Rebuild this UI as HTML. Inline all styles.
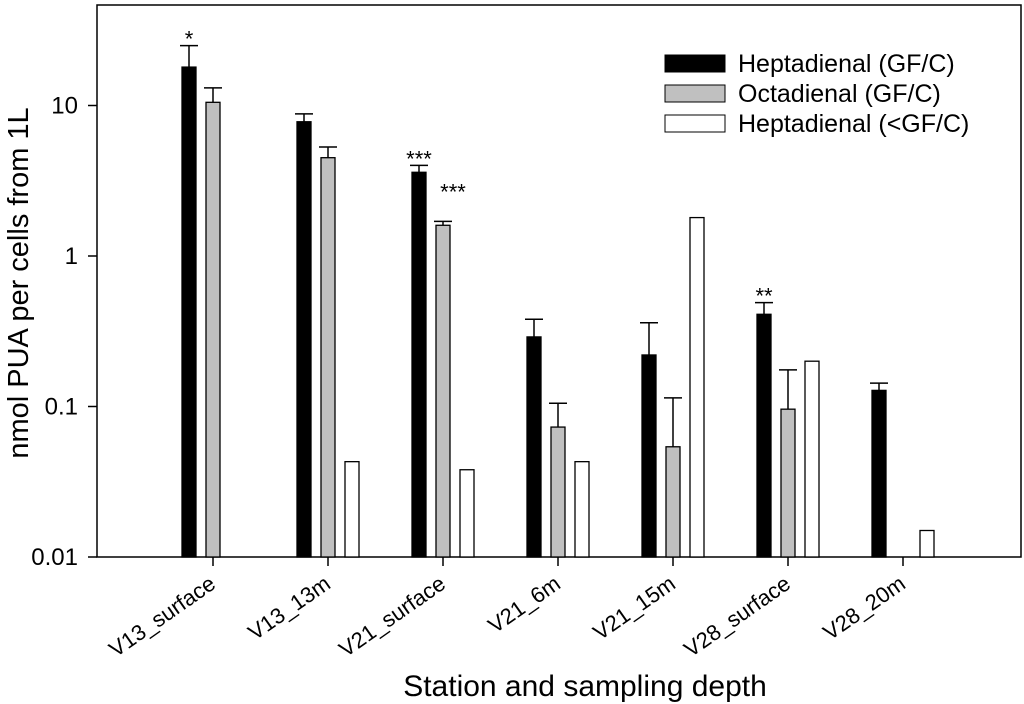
<!DOCTYPE html>
<html><head><meta charset="utf-8"><style>
html,body{margin:0;padding:0;background:#fff}
svg{display:block;font-family:"Liberation Sans",Arial,sans-serif}
</style></head><body>
<svg id="chart" width="1024" height="704">
<rect x="97" y="5" width="924" height="552" fill="none" stroke="#000" stroke-width="1.5"/>
<g id="bars"></g>
<g id="axes"></g>
<g>
<rect x="665" y="55" width="60" height="17" fill="#000" stroke="#000"/>
<text x="738" y="72" font-size="25">Heptadienal (GF/C)</text>
<rect x="665" y="85" width="60" height="17" fill="#c0c0c0" stroke="#000"/>
<text x="738" y="102" font-size="25">Octadienal (GF/C)</text>
<rect x="665" y="115" width="60" height="17" fill="#fff" stroke="#000"/>
<text x="738" y="132" font-size="25">Heptadienal (&lt;GF/C)</text>
</g>
<text x="28" y="283" font-size="29" text-anchor="middle" transform="rotate(-90 28 283)">nmol PUA per cells from 1L</text>
<text x="585" y="696" font-size="30" text-anchor="middle">Station and sampling depth</text>
</svg>
<script>
const categories=["V13_surface","V13_13m","V21_surface","V21_6m","V21_15m","V28_surface","V28_20m"];
const heptaGFC=[18,7.8,3.6,0.29,0.22,0.41,0.128];
const heptaGFCerr=[25,8.8,4.0,0.38,0.36,0.49,0.143];
const octaGFC=[10.5,4.5,1.6,0.073,0.054,0.096,null];
const octaGFCerr=[13.1,5.3,1.7,0.105,0.114,0.175,null];
const heptaLt=[null,0.043,0.038,0.043,1.8,0.20,0.015];
const heptaStars=["*","","***","","","**",""];
const octaStars=["","","***","","","",""];
const yTicks=[0.01,0.1,1,10];
const yTickLabels=["0.01","0.1","1","10"];

const NS="http://www.w3.org/2000/svg";
const y0=557, decade=150.5;
function yScale(v){return y0-(Math.log10(v)+2)*decade;}
function xScale(i){return 213+i*115;}
function mk(tag,attrs,parent){const e=document.createElementNS(NS,tag);for(const k in attrs)e.setAttribute(k,attrs[k]);parent.appendChild(e);return e;}
const bars=document.getElementById('bars'), axes=document.getElementById('axes');
const series=[
 {vals:heptaGFC,err:heptaGFCerr,fill:"#000",off:-24,name:"heptadienal-gfc",stars:heptaStars},
 {vals:octaGFC,err:octaGFCerr,fill:"#c0c0c0",off:0,name:"octadienal-gfc",stars:octaStars},
 {vals:heptaLt,err:null,fill:"#fff",off:24,name:"heptadienal-lt-gfc",stars:null}];
categories.forEach((c,i)=>{
 series.forEach(s=>{
  const v=s.vals[i]; if(v==null)return;
  const cx=xScale(i)+s.off, w=14, top=yScale(v);
  if(s.err&&s.err[i]!=null){
   const et=yScale(s.err[i]);
   const l=mk('line',{x1:cx,x2:cx,y1:top,y2:et,stroke:"#000","stroke-width":1.5},bars);
   
   
   const cap=mk('line',{x1:cx-9,x2:cx+9,y1:et,y2:et,stroke:"#000","stroke-width":1.5},bars);
   
   
  }
  const r=mk('rect',{x:cx-w/2,y:top,width:w,height:y0-top,fill:s.fill,stroke:"#000","stroke-width":1.3},bars);
  
  
  if(s.stars&&s.stars[i]){
   const base=s.err?yScale(s.err[i]):top;
   const isOct=s.name==="octadienal-gfc";
   const t=mk('text',{x:isOct?cx+10:cx,y:isOct?base-22:base+1,"font-size":22,"text-anchor":"middle"},bars);
   t.textContent=s.stars[i];
   
   
  }
 });
 const tk=mk('line',{x1:xScale(i),x2:xScale(i),y1:y0,y2:y0+9,stroke:"#000","stroke-width":1.5},axes);
 
 
 const lx=xScale(i)+4, ly=y0+30;
 const t=mk('text',{x:lx,y:ly,"font-size":22,"text-anchor":"end",transform:`rotate(-35 ${lx} ${ly})`},axes);
 t.textContent=c;
 
 
});
yTicks.forEach((v,k)=>{
 const y=yScale(v);
 const l=mk('line',{x1:88,x2:97,y1:y,y2:y,stroke:"#000","stroke-width":1.5},axes);
 
 
 const t=mk('text',{x:78,y:y+8,"font-size":24,"text-anchor":"end"},axes);
 t.textContent=yTickLabels[k];
 
 
});
</script>
</body></html>
